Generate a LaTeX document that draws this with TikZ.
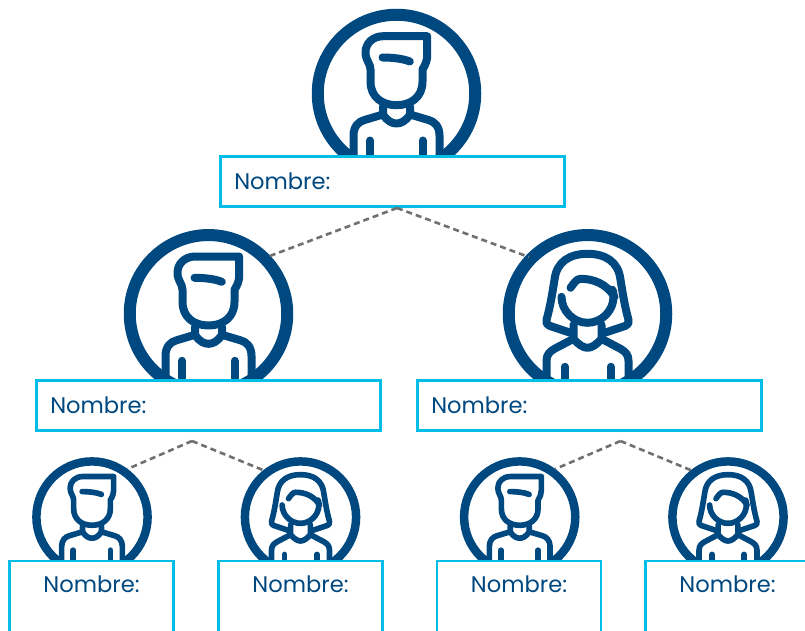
\documentclass[tikz,border=0pt]{standalone}
\usepackage{fontspec}
\setmainfont{Poppins}
\usetikzlibrary{positioning}
\definecolor{navy}{RGB}{0,72,128}
\definecolor{sky}{RGB}{0,190,232}
\definecolor{linkgray}{RGB}{112,112,112}
\tikzset{ring/.style={circle,draw=navy,inner sep=0pt,outer sep=0pt},
namebox/.style={rectangle,draw=sky,fill=white,line width=2.8pt,outer sep=0pt,text=navy,
font=\fontsize{22.6}{22.6}\selectfont},
widebox/.style={namebox,anchor=north west,minimum width=344pt,minimum height=50.5pt,
text width=316pt,inner xsep=14pt,align=left},
smallbox/.style={namebox,anchor=north,text width=164pt,inner xsep=0pt,inner ysep=0pt,align=center,
text height=31pt,text depth=72pt},
link/.style={draw=linkgray,line width=2.6pt,dash pattern=on 6pt off 4pt},
man/.pic={
  \draw [navy,line join=round,line cap=round] (30.7,-57.3) -- (-13,-57.3)
    .. controls (-24,-57.3) and (-31,-50) .. (-31,-41)
    .. controls (-31,-33) and (-26,-30) .. (-26,-24) -- (-26,-12)
    .. controls (-26,4) and (-14,11.7) .. (0,11.7)
    .. controls (14,11.7) and (26,4) .. (26,-12) -- (26,-24)
    .. controls (29,-29) and (30.7,-33) .. (30.7,-38) -- cycle;
  \draw [navy,line join=round,line cap=round] (-14,-36) .. controls (-5,-36) and (6,-35) .. (13.3,-32);
  \draw [navy,line join=round,line cap=round] (-43,64) -- (-43,42)
    .. controls (-43,33) and (-38,28) .. (-32,26.5) -- (-13.5,21) -- (-13.5,13);
  \draw [navy,line join=round,line cap=round] (43,64) -- (43,42)
    .. controls (43,33) and (38,28) .. (32,26.5) -- (13.5,21) -- (13.5,13);
  \draw [navy,line join=round,line cap=round] (-13.5,21) .. controls (-9,28) and (-4,30) .. (0,30)
    .. controls (4,30) and (9,28) .. (13.5,21);
  \draw [navy,line cap=round] (-26.5,47) -- (-26.5,64);
  \draw [navy,line cap=round] (26,47) -- (26,64);
},
woman/.pic={
  \draw [navy,line join=round,line cap=round] (-17,19) -- (-38,12)
    .. controls (-41,11) and (-41.5,9) .. (-41,6)
    .. controls (-37,-8) and (-35,-22) .. (-33,-34)
    .. controls (-31,-52) and (-18,-60) .. (0,-60)
    .. controls (18,-60) and (31,-52) .. (33,-34)
    .. controls (35,-22) and (37,-8) .. (41,6)
    .. controls (41.5,9) and (41,11) .. (38,12) -- (17,19);
  \draw [navy,line join=round,line cap=round] (-26,-17)
    .. controls (-26,-3) and (-14,9) .. (0,9)
    .. controls (14,9) and (26,-3) .. (26,-17)
    .. controls (26,-20) and (26,-22) .. (25,-24);
  \draw [navy,line join=round,line cap=round] (-17,-26) .. controls (-14,-30) and (-11,-35) .. (-7,-35)
    .. controls (6,-35) and (19,-30) .. (27,-17);
  \draw [navy,line join=round,line cap=round] (-14,11) -- (-14,25)
    .. controls (-9,31) and (-4,34) .. (0,34)
    .. controls (4,34) and (9,31) .. (14,25) -- (14,11);
  \draw [navy,line join=round,line cap=round] (-41,68) -- (-41,47)
    .. controls (-41,41) and (-38,38) .. (-33,35) -- (-14,25);
  \draw [navy,line join=round,line cap=round] (41,68) -- (41,47)
    .. controls (41,41) and (38,38) .. (33,35) -- (14,25);
  \draw [navy,line cap=round] (-22.5,53) -- (-22.5,68);
  \draw [navy,line cap=round] (23,53) -- (23,68);
}}
\newcommand{\person}[4]{
\node (#1) [ring,minimum size=#4*157.5pt,line width=#4*12pt] at (#2) {};
\pic [scale=#4,line width=#4*8pt] at (#2) {#3};
}
\begin{document}
\begin{tikzpicture}[x=1pt,y=-1pt]
  \clip (0,0) rectangle (805,631);
  \person{boss}{396.5,93.5}{man}{1}
  \person{leadl}{208.5,313.8}{man}{1}
  \person{leadr}{587.5,313.8}{woman}{1}
  \person{stafflm}{92,517}{man}{0.706}
  \person{stafflw}{300.5,517}{woman}{0.706}
  \person{staffrm}{519.7,517}{man}{0.706}
  \person{staffrw}{728,517}{woman}{0.706}

  \node (bossbox) [widebox] at (220.3,156.3) {Nombre:};
  \node (leadlbox) [widebox] at (36.3,380.3) {Nombre:};
  \node (leadrbox) [widebox] at (417.3,380.3) {Nombre:};
  \node (stafflmbox) [smallbox] at (91.5,561) {Nombre:};
  \node (stafflwbox) [smallbox] at (300.5,561) {Nombre:};
  \node (staffrmbox) [smallbox] at (519,561) {Nombre:};
  \node (staffrwbox) [smallbox] at (727.5,561) {Nombre:};

  \coordinate (peaktop) at (397,208);
  \coordinate (peakl) at (192,441);
  \coordinate (peakr) at (620.5,441);
  \draw [link,shorten >=3pt] (peaktop) -- (leadl.45);
  \draw [link,shorten >=3pt] (peaktop) -- (leadr.135);
  \draw [link,shorten >=5pt] (peakl) -- (stafflm.56);
  \draw [link,shorten >=5pt] (peakl) -- (stafflw.126);
  \draw [link,shorten >=5pt] (peakr) -- (staffrm.56);
  \draw [link,shorten >=5pt] (peakr) -- (staffrw.126);
\end{tikzpicture}
\end{document}
